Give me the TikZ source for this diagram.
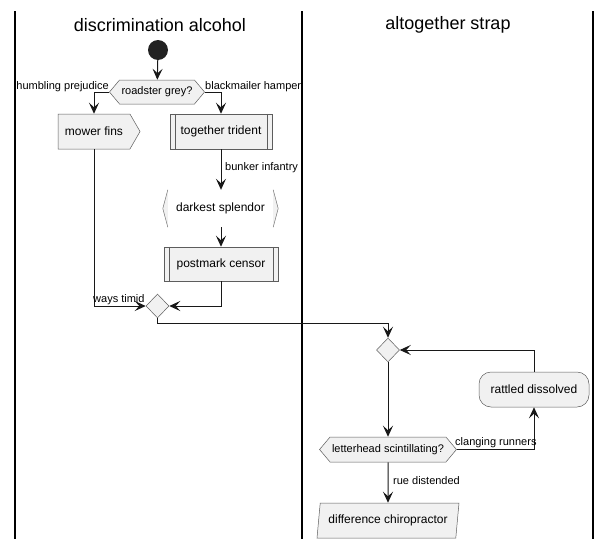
\documentclass[tikz,border=0pt]{standalone}
\usepackage{fontspec}
\setmainfont{Liberation Sans}
\usepackage{xcolor}
\usepackage{tikz}
\usetikzlibrary{arrows.meta, shapes.geometric, shapes.symbols, calc}
\definecolor{actfill}{HTML}{F1F1F1}
\definecolor{actline}{HTML}{181818}
\definecolor{startdot}{HTML}{222222}

\begin{document}
\begin{tikzpicture}[
    x=1pt, y=-1pt,
    font=\fontsize{12}{14}\selectfont,
    lanetitle/.style={font=\fontsize{18}{21}\selectfont, inner sep=0pt},
    lbl/.style={font=\fontsize{11}{13}\selectfont, inner sep=0pt, text=black},
    act/.style 2 args={draw=actline!70, line width=0.5pt, fill=actfill,
        minimum width=#1, minimum height=#2, inner sep=0pt},
    cond/.style={signal, signal to=west and east, signal pointer angle=100,
        draw=actline!70, line width=0.5pt, fill=actfill,
        font=\fontsize{11}{13}\selectfont, minimum height=#1,
        inner xsep=2pt, inner ysep=0pt},
    merge/.style={diamond, draw=actline!70, line width=0.5pt, fill=actfill,
        minimum width=23pt, minimum height=24pt, inner sep=0pt},
    bracket/.style={draw=actline!60, line width=0.5pt, fill=actfill},
    flow/.style={-{Stealth[length=11pt, width=10pt, inset=4.5pt]},
        draw=actline, line width=1pt},
    lane/.style={draw=black, line width=1.5pt},
  ]
  \useasboundingbox (0,0) rectangle (611,549);
  % swimlanes
  \draw[lane] (15,11) -- (15,539);
  \draw[lane] (302,11) -- (302,539);
  \draw[lane] (593,11) -- (593,539);
  \node[lanetitle] (lane_discrimination) at (160,25) {discrimination alcohol};
  \node[lanetitle] (lane_altogether) at (448,25) {altogether strap};
  % left lane
  \node[circle, fill=startdot, minimum size=20pt, inner sep=0pt] (start_dot) at (158,50) {};
  \node[cond=24pt] (roadster_grey) at (157,92) {roadster grey?};
  \node[act={82pt}{35pt}, signal, signal to=east, signal pointer angle=120] (mower_fins) at (94,131.5) {mower fins};
  \node[act={102pt}{35pt}] (together_trident) at (221,131.5) {together trident};
  \draw[draw=actline!70, line width=0.5pt] ([xshift=5pt]together_trident.north west) -- ([xshift=5pt]together_trident.south west);
  \draw[draw=actline!70, line width=0.5pt] ([xshift=-5pt]together_trident.north east) -- ([xshift=-5pt]together_trident.south east);
  \node[minimum width=115pt, minimum height=37pt, inner sep=0pt] (darkest_splendor) at (220.5,208.5) {darkest splendor};
  \filldraw[bracket] ([xshift=5pt]darkest_splendor.north west) -- (darkest_splendor.west) -- ([xshift=5pt]darkest_splendor.south west);
  \filldraw[bracket] ([xshift=-5pt]darkest_splendor.north east) -- (darkest_splendor.east) -- ([xshift=-5pt]darkest_splendor.south east);
  \node[act={114pt}{34pt}] (postmark_censor) at (221,264) {postmark censor};
  \draw[draw=actline!70, line width=0.5pt] ([xshift=5pt]postmark_censor.north west) -- ([xshift=5pt]postmark_censor.south west);
  \draw[draw=actline!70, line width=0.5pt] ([xshift=-5pt]postmark_censor.north east) -- ([xshift=-5pt]postmark_censor.south east);
  \node[merge] (merge_ways) at (157.5,306) {};
  % right lane
  \node[merge] (merge_loop) at (388,350) {};
  \node[act={110pt}{35pt}, rounded corners=12pt] (rattled_dissolved) at (534,389.5) {rattled dissolved};
  \node[cond=25pt] (letterhead) at (388,449.5) {letterhead scintillating?};
  \node[act={142pt}{35pt}, trapezium, trapezium left angle=74, trapezium right angle=106,
    trapezium stretches body] (difference_chiropractor) at (388,520.5) {difference chiropractor};
  % flows
  \draw[flow] (start_dot) -- (roadster_grey);
  \draw[flow] (roadster_grey.west) -| (mower_fins.north);
  \draw[flow] (roadster_grey.east) -| (together_trident.north);
  \node[lbl, anchor=east] (humbling_prejudice) at (109,87) {humbling prejudice};
  \node[lbl, anchor=west] (blackmailer_hamper) at (205,87) {blackmailer hamper};
  \draw[flow] (together_trident.south) -- (together_trident.south |- darkest_splendor.north);
  \node[lbl, anchor=west] (bunker_infantry) at (225,168) {bunker infantry};
  \draw[flow] (darkest_splendor.south -| postmark_censor.north) -- (postmark_censor.north);
  \draw[flow] (postmark_censor.south) |- (merge_ways.east);
  \draw[flow] (mower_fins.south) |- (merge_ways.west);
  \node[lbl, anchor=west] (ways_timid) at (93,300) {ways timid};
  \draw[flow] (merge_ways.south) -- ++(0,5) -| (merge_loop.north);
  \draw[flow] (merge_loop.south) -- (letterhead.north);
  \draw[flow] (letterhead.east) -| (rattled_dissolved.south);
  \node[lbl, anchor=west] (clanging_runners) at (455,443) {clanging runners};
  \draw[flow] (rattled_dissolved.north) |- (merge_loop.east);
  \draw[flow] (letterhead.south) -- (difference_chiropractor.north);
  \node[lbl, anchor=west] (rue_distended) at (393,481) {rue distended};
\end{tikzpicture}
\end{document}
